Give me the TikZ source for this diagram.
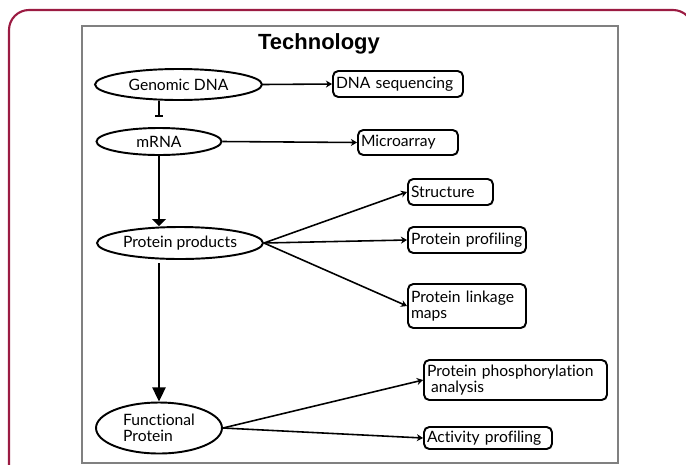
\documentclass[tikz,border=0pt]{standalone}
\usepackage{fontspec}
\setmainfont{Lato}[Ligatures=NoCommon]
\newfontfamily\titlefont{Liberation Sans}
\usepackage{xcolor}
\usetikzlibrary{shapes.geometric,arrows.meta}
\definecolor{framered}{RGB}{155,27,66}
\definecolor{framegray}{RGB}{128,128,128}

\begin{document}
\begin{tikzpicture}[x=0.02cm, y=-0.02cm,
                    font=\fontsize{8.9}{9.4}\selectfont,
                    oval/.style={ellipse, draw, line width=1.1pt, inner sep=0pt},
                    tbox/.style={rectangle, draw, line width=1.1pt, rounded corners=3pt, align=left, inner xsep=0.06cm, inner ysep=0pt},
                    link/.style={line width=0.9pt, -{Stealth[length=3.5pt,width=4pt]}}]
                    \useasboundingbox (0,0) rectangle (686,464);
                    % frames
                    \draw[framered, line width=1.2pt, rounded corners=0.4cm] (9,10) rectangle (693,520);
                    \draw[framegray, line width=1pt] (82,26) rectangle (618,463);

                    \node[font=\titlefont\bfseries\fontsize{12.5}{14}\selectfont] (title) at (319,44) {Technology};

                    \node[oval, minimum width=3.34cm, minimum height=0.62cm] (gdna) at (178.5,84.5) {Genomic DNA};
                    \node[oval, minimum width=2.5cm, minimum height=0.54cm] (mrna) at (159,141.5) {mRNA\hspace{0.64cm}};
                    \node[oval, minimum width=3.32cm, minimum height=0.64cm] (pp) at (180,243) {Protein products};
                    \node[oval, minimum width=2.52cm, minimum height=1.02cm, align=left] (fp) at (159,428) {Functional\\Protein};

                    \node[tbox, text width=2.48cm, minimum height=0.52cm] (dnaseq) at (398,84) {DNA sequencing};
                    \node[tbox, text width=1.88cm, minimum height=0.5cm] (micro) at (408,142.5) {Microarray};
                    \node[tbox, text width=1.58cm, minimum height=0.52cm] (struct) at (450.5,192) {Structure};
                    \node[tbox, text width=2.24cm, minimum height=0.52cm] (prof) at (467,240) {Protein profiling};
                    \node[tbox, text width=2.24cm, minimum height=0.88cm] (linkage) at (467,306) {Protein linkage\\maps};
                    \node[tbox, text width=3.54cm, minimum height=0.8cm] (phos) at (515.5,380) {Protein phosphorylation\\\hspace*{0.08cm}analysis};
                    \node[tbox, text width=2.44cm, minimum height=0.44cm] (act) at (488,438) {Activity profiling};

                    \draw[link] (gdna.east) -- (dnaseq.west);
                    \draw[line width=0.9pt, -{Bar[width=4.5pt]}, shorten >=6pt] (gdna.south -| mrna.north) -- (mrna.north);
                    \draw[link] (mrna.east) -- (micro.west);
                    \draw[line width=0.9pt, -{Triangle[length=4pt,width=8pt]}] (mrna.south) -- (mrna.south |- pp.north);
                    \draw[link] (pp.east) -- (struct.west);
                    \draw[link] (pp.east) -- (prof.west);
                    \draw[link] (pp.east) -- (linkage.west);
                    \draw[line width=0.9pt, -{Triangle[length=8pt,width=7.5pt]}, shorten <=2pt] (pp.south -| fp.north) -- (fp.north);
                    \draw[link] (fp.east) -- (phos.west);
                    \draw[link] (fp.east) -- (act.west);
                \end{tikzpicture}
\end{document}
